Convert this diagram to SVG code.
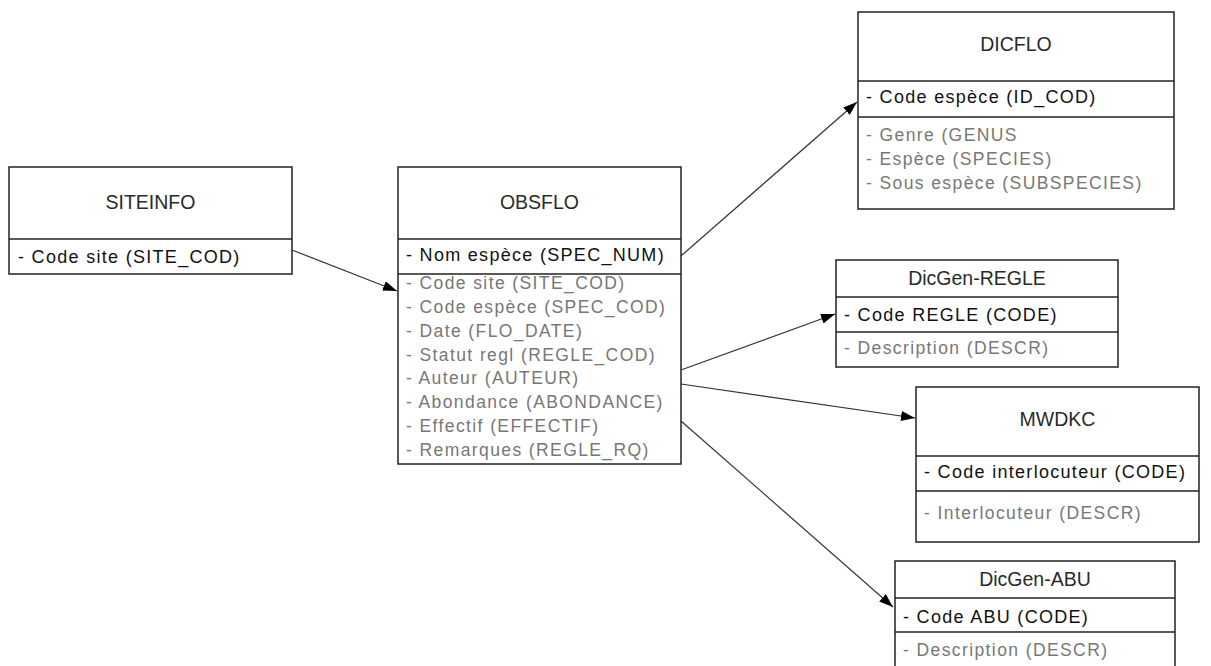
<svg xmlns="http://www.w3.org/2000/svg" width="1211" height="666" viewBox="0 0 1211 666">
<style>
.box{fill:#fff;stroke:#222;stroke-width:1.5}
.div{stroke:#222;stroke-width:1.5}
.title{font-family:"Liberation Sans",Arial,sans-serif;font-size:19.5px;fill:#2a2a2a;text-anchor:middle;dominant-baseline:central}
.key{font-family:"Liberation Sans",Arial,sans-serif;font-size:18px;fill:#111;letter-spacing:1.3px}
.attr{font-family:"Liberation Sans",Arial,sans-serif;font-size:17.5px;fill:#777;letter-spacing:1.4px}
.conn{stroke:#333;stroke-width:1.2;fill:none;marker-end:url(#arr)}
</style>
<defs>
<marker id="arr" viewBox="0 0 14 10" refX="14" refY="5" markerWidth="14" markerHeight="10" markerUnits="userSpaceOnUse" orient="auto">
<path d="M0,0 L14,5 L0,10 Z" fill="#000"/>
</marker>
</defs>
<rect width="1211" height="666" fill="#fff"/>

<g id="SITEINFO">
<rect class="box" x="9" y="167" width="283" height="107"/>
<line class="div" x1="9" y1="239" x2="292" y2="239"/>
<text class="title" x="150.5" y="202">SITEINFO</text>
<text class="key" x="18" y="263">- Code site (SITE_COD)</text>
</g>

<g id="OBSFLO">
<rect class="box" x="398" y="167" width="283" height="297"/>
<line class="div" x1="398" y1="239" x2="681" y2="239"/>
<line class="div" x1="398" y1="274" x2="681" y2="274"/>
<text class="title" x="539.5" y="202">OBSFLO</text>
<text class="key" x="406" y="261">- Nom espèce (SPEC_NUM)</text>
<text class="attr" x="406" y="289">- Code site (SITE_COD)</text>
<text class="attr" x="406" y="313">- Code espèce (SPEC_COD)</text>
<text class="attr" x="406" y="337">- Date (FLO_DATE)</text>
<text class="attr" x="406" y="361">- Statut regl (REGLE_COD)</text>
<text class="attr" x="406" y="384">- Auteur (AUTEUR)</text>
<text class="attr" x="406" y="408">- Abondance (ABONDANCE)</text>
<text class="attr" x="406" y="432">- Effectif (EFFECTIF)</text>
<text class="attr" x="406" y="456">- Remarques (REGLE_RQ)</text>
</g>

<g id="DICFLO">
<rect class="box" x="858" y="12" width="316" height="197"/>
<line class="div" x1="858" y1="81" x2="1174" y2="81"/>
<line class="div" x1="858" y1="117" x2="1174" y2="117"/>
<text class="title" x="1016" y="44">DICFLO</text>
<text class="key" x="866" y="103">- Code espèce (ID_COD)</text>
<text class="attr" x="866" y="141">- Genre (GENUS</text>
<text class="attr" x="866" y="165">- Espèce (SPECIES)</text>
<text class="attr" x="866" y="189">- Sous espèce (SUBSPECIES)</text>
</g>

<g id="DicGen-REGLE">
<rect class="box" x="836" y="260" width="282" height="107"/>
<line class="div" x1="836" y1="297" x2="1118" y2="297"/>
<line class="div" x1="836" y1="332" x2="1118" y2="332"/>
<text class="title" x="977" y="278">DicGen-REGLE</text>
<text class="key" x="844" y="321">- Code REGLE (CODE)</text>
<text class="attr" x="844" y="354">- Description (DESCR)</text>
</g>

<g id="MWDKC">
<rect class="box" x="916" y="387" width="283" height="155"/>
<line class="div" x1="916" y1="456" x2="1199" y2="456"/>
<line class="div" x1="916" y1="491" x2="1199" y2="491"/>
<text class="title" x="1057.5" y="419">MWDKC</text>
<text class="key" x="924" y="478">- Code interlocuteur (CODE)</text>
<text class="attr" x="924" y="519">- Interlocuteur (DESCR)</text>
</g>

<g id="DicGen-ABU">
<rect class="box" x="895" y="561" width="280" height="120"/>
<line class="div" x1="895" y1="598" x2="1175" y2="598"/>
<line class="div" x1="895" y1="632" x2="1175" y2="632"/>
<text class="title" x="1035" y="579">DicGen-ABU</text>
<text class="key" x="903" y="623">- Code ABU (CODE)</text>
<text class="attr" x="903" y="656">- Description (DESCR)</text>
</g>

<g id="connectors">
<line class="conn" x1="292" y1="250" x2="397" y2="291"/>
<line class="conn" x1="681" y1="256" x2="857" y2="102"/>
<line class="conn" x1="681" y1="370" x2="835" y2="314"/>
<line class="conn" x1="681" y1="384" x2="915" y2="418"/>
<line class="conn" x1="681" y1="421" x2="893" y2="607"/>
</g>
</svg>
